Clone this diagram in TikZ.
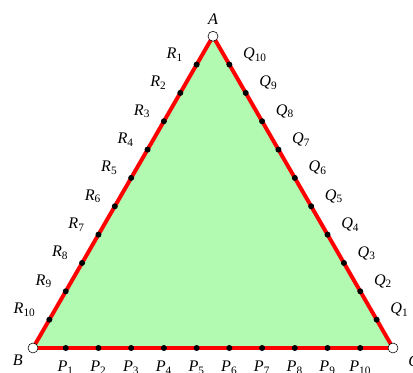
\documentclass[tikz,border=0pt]{standalone}
\usepackage{fontspec}
\setmainfont{Liberation Serif}
\usepackage{tikz}
\usetikzlibrary{calc}
\definecolor{trigreen}{RGB}{178,250,178}
\definecolor{trired}{RGB}{255,0,0}

\begin{document}
\begin{tikzpicture}[
  endpt/.style={circle, draw=black, fill=white, inner sep=0pt, minimum size=2.5mm, line width=0.4pt},
  sidept/.style={circle, fill=black, inner sep=0pt, minimum size=1.5mm},
  ptlabel/.style={font=\fontsize{11.5}{14}\selectfont},
]
\useasboundingbox (-0.825,-0.625) rectangle (9.5,8.7);

% === Vertices ===
\coordinate (B) at (0,0);
\coordinate (C) at (9,0);
\coordinate (A) at (4.5,{9*sin(60)});

% === Triangle ===
\fill[trigreen] (A) -- (B) -- (C) -- cycle;
\draw[trired, line width=2.8pt, line join=round] (A) -- (B) -- (C) -- cycle;

% === Points on the sides ===
\foreach \i in {1,...,10} {
  \node[sidept] (P\i) at ($(B)!\i/11!(C)$) {};
  \node[sidept] (Q\i) at ($(C)!\i/11!(A)$) {};
  \node[sidept] (R\i) at ($(A)!\i/11!(B)$) {};
  \node[ptlabel, anchor=north] (labP\i) at ($(P\i)+(0,-0.2)$) {\textit{P}\textsubscript{\i}};
  \node[ptlabel, anchor=west] (labQ\i) at ($(Q\i)+(0.22,0.25)$) {\textit{Q}\textsubscript{\i}};
  \node[ptlabel, anchor=east] (labR\i) at ($(R\i)+(-0.22,0.25)$) {\textit{R}\textsubscript{\i}};
}

% === Corners ===
\node[endpt] (vA) at (A) {};
\node[endpt] (vB) at (B) {};
\node[endpt] (vC) at (C) {};
\node[ptlabel, anchor=south] (labA) at ($(A)+(0,0.18)$) {\textit{A}};
\node[ptlabel, anchor=north east] (labB) at ($(B)+(-0.13,-0.06)$) {\textit{B}};
\node[ptlabel, anchor=north west] (labC) at ($(C)+(0.26,-0.06)$) {\textit{C}};

\end{tikzpicture}
\end{document}
